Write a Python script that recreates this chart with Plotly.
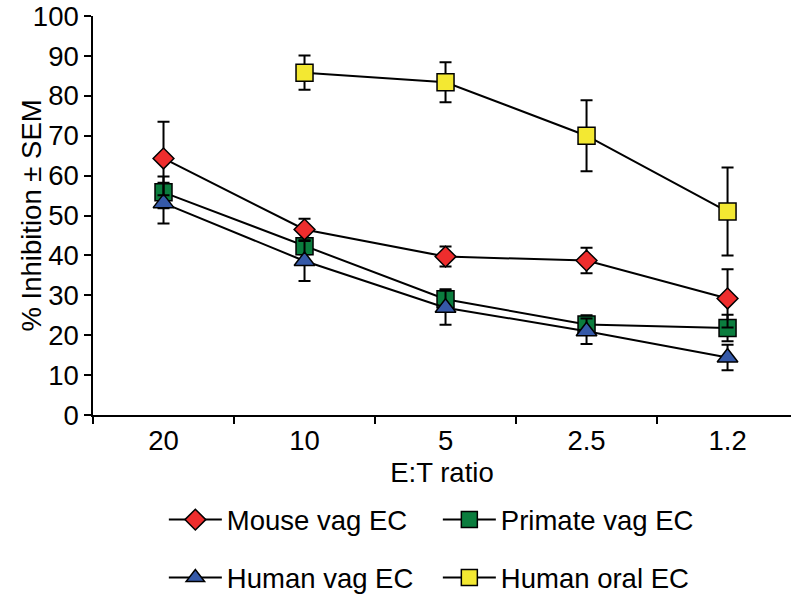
import plotly.graph_objects as go

# E:T ratios on the x axis
ratios = ["20", "10", "5", "2.5", "1.2"]

# Mean % inhibition and SEM for each target cell type
mouse_vag = [64.3, 46.5, 39.7, 38.7, 29.2]
mouse_vag_sem = [9.2, 2.7, 2.5, 3.2, 7.3]

primate_vag = [55.8, 42.3, 29.0, 22.7, 21.8]
primate_vag_sem = [4.0, 2.0, 2.5, 2.3, 3.3]

human_vag = [53.1, 38.6, 26.9, 21.0, 14.4]
human_vag_sem = [5.1, 5.0, 4.3, 3.2, 3.2]

human_oral = [None, 85.8, 83.4, 70.0, 51.0]
human_oral_sem = [0, 4.3, 5.0, 8.9, 11.0]

FONT = "Liberation Sans, Arial, Helvetica, sans-serif"
TXT = 27.5


def series(name, y, err, symbol, color, size, legend, rank):
    return go.Scatter(
        x=ratios, y=y, name=name, mode="lines+markers",
        line=dict(color="black", width=2),
        marker=dict(symbol=symbol, size=size, color=color,
                    line=dict(color="black", width=1.5)),
        error_y=dict(type="data", array=err, visible=True,
                     color="black", thickness=2, width=6),
        legend=legend, legendrank=rank, connectgaps=False,
    )


fig = go.Figure()
# drawing order: primate, human vaginal, mouse, human oral on top
fig.add_trace(series("Primate vag EC", primate_vag, primate_vag_sem,
                     "square", "#0B7D3E", 17, "legend", 2))
fig.add_trace(series("Human vag EC", human_vag, human_vag_sem,
                     "triangle-up", "#3559A8", 18, "legend2", 1))
fig.add_trace(series("Mouse vag EC", mouse_vag, mouse_vag_sem,
                     "diamond", "#EE2D2D", 16, "legend", 1))
fig.add_trace(series("Human oral EC", human_oral, human_oral_sem,
                     "square", "#F3E832", 17, "legend2", 2))

legend_common = dict(
    orientation="h", xanchor="left", yanchor="middle",
    font=dict(family=FONT, size=TXT, color="black"),
    bgcolor="rgba(0,0,0,0)", entrywidthmode="pixels", entrywidth=206,
    itemwidth=53, traceorder="normal",
)

fig.update_layout(
    width=791, height=595,
    margin=dict(l=93, r=0, t=16, b=180, autoexpand=False),
    paper_bgcolor="white", plot_bgcolor="white",
    font=dict(family=FONT, size=TXT, color="black"),
    showlegend=True,
    legend=dict(x=0.1015, y=-0.2625, **legend_common),
    legend2=dict(x=0.1015, y=-0.4075, **legend_common),
    xaxis=dict(
        type="category", range=[-0.5, 4.45],
        showline=True, linecolor="black", linewidth=1.5,
        ticks="outside", tickson="boundaries", ticklen=7,
        tickwidth=1.5, tickcolor="black", showgrid=False,
        tickfont=dict(family=FONT, size=TXT),
        title=dict(text="E:T ratio", font=dict(family=FONT, size=TXT),
                   standoff=8),
        zeroline=False,
    ),
    yaxis=dict(
        range=[0, 100], tickmode="array",
        tickvals=[0, 10, 20, 30, 40, 50, 60, 70, 80, 90, 100],
        showline=True, linecolor="black", linewidth=1.5,
        ticks="outside", ticklen=7, tickwidth=1.5, tickcolor="black",
        showgrid=False, zeroline=False,
        tickfont=dict(family=FONT, size=TXT),
    ),
    annotations=[dict(
        text="% Inhibition ± SEM", textangle=-90,
        xref="paper", x=-0.0874, xanchor="center",
        yref="y", y=50, yanchor="middle",
        showarrow=False, font=dict(family=FONT, size=TXT, color="black"),
    )],
)

fig.write_html("out.html")
